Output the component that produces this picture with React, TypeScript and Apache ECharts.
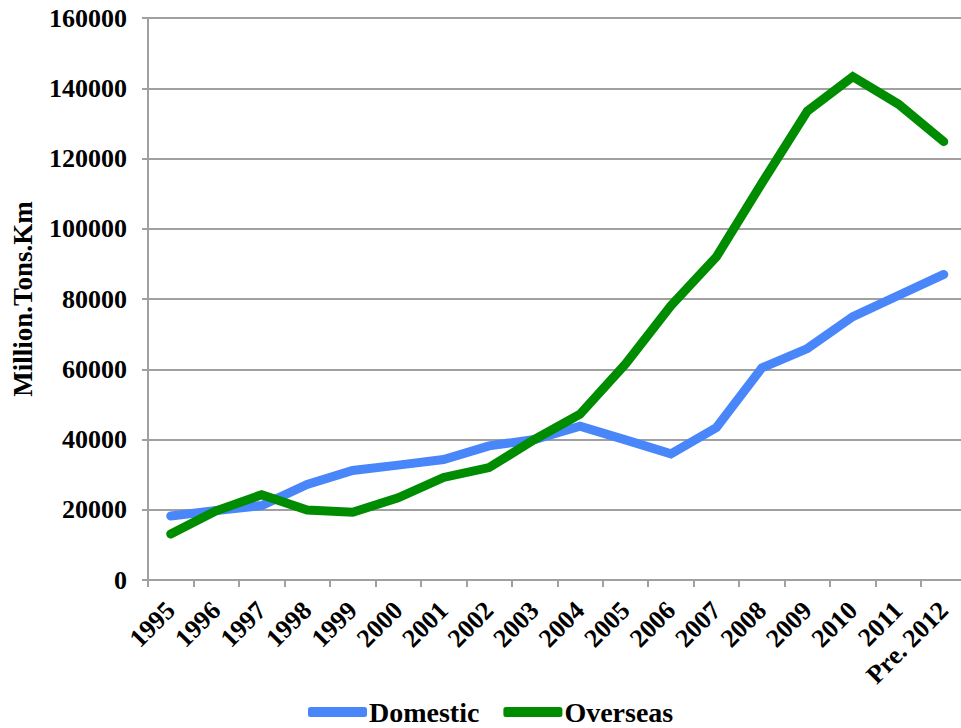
import React, { useEffect, useRef } from "react";
import * as echarts from "echarts";

const categories = ["1995", "1996", "1997", "1998", "1999", "2000", "2001", "2002", "2003", "2004", "2005", "2006", "2007", "2008", "2009", "2010", "2011", "Pre. 2012"];
const domestic = [18200, 19800, 21200, 27200, 31200, 32700, 34300, 38200, 40000, 43800, 39900, 35900, 43400, 60400, 65900, 75000, 81000, 87000];
const overseas = [13100, 19700, 24300, 19900, 19300, 23400, 29200, 32000, 40000, 47200, 61500, 78100, 92000, 113000, 133500, 143300, 135500, 124800];
const yTicks = { min: 0, max: 160000, interval: 20000 };

const FONT = "'Liberation Serif', 'Times New Roman', serif";

export default function App() {
  const ref = useRef<HTMLDivElement>(null);
  useEffect(() => {
    if (!ref.current) return;
    const chart = echarts.init(ref.current, undefined, { renderer: "svg" });
    chart.setOption({
      animation: false,
      backgroundColor: "#ffffff",
      grid: { left: 148, top: 18, bottom: 148, right: -5.5, containLabel: false, outerBoundsMode: "none" },
      legend: {
        left: 303,
        top: 693,
        icon: "roundRect",
        itemWidth: 59,
        itemHeight: 10,
        itemGap: 24,
        textStyle: { fontFamily: FONT, fontWeight: "bold", fontSize: 28, color: "#000", padding: [0, 0, 0, -3] },
        data: ["Domestic", "Overseas"],
      },
      xAxis: {
        type: "category",
        data: categories,
        boundaryGap: true,
        axisLine: { lineStyle: { color: "#a0a0a0", width: 2 } },
        axisTick: { show: true, length: 7, lineStyle: { color: "#a0a0a0", width: 2 } },
        axisLabel: {
          interval: 0,
          rotate: 45,
          margin: 26,
          fontFamily: FONT,
          fontWeight: "bold",
          fontSize: 26,
          color: "#000",
        },
      },
      yAxis: {
        type: "value",
        min: yTicks.min,
        max: yTicks.max,
        interval: yTicks.interval,
        name: "Million.Tons.Km",
        nameLocation: "middle",
        nameGap: 112,
        nameTextStyle: { fontFamily: FONT, fontWeight: "bold", fontSize: 27, color: "#000" },
        axisLine: { show: true, lineStyle: { color: "#a0a0a0", width: 2 } },
        axisTick: { show: true, length: 6, lineStyle: { color: "#a0a0a0", width: 2 } },
        splitLine: { show: true, lineStyle: { color: "#a0a0a0", width: 2 } },
        axisLabel: {
          margin: 21,
          formatter: (v: number) => String(v),
          fontFamily: FONT,
          fontWeight: "bold",
          fontSize: 26,
          color: "#000",
        },
      },
      series: [
        {
          name: "Domestic",
          type: "line",
          data: domestic,
          showSymbol: false,
          color: "#4886fa",
          lineStyle: { width: 9, color: "#4886fa", cap: "round", join: "miter" },
        },
        {
          name: "Overseas",
          type: "line",
          data: overseas,
          showSymbol: false,
          color: "#008c00",
          lineStyle: { width: 9, color: "#008c00", cap: "round", join: "miter" },
        },
      ],
    });
    return () => chart.dispose();
  }, []);
  return (
    <div
      ref={ref}
      style={{ position: "absolute", left: 0, top: 0, width: 961, height: 728, background: "#fff" }}
    />
  );
}
